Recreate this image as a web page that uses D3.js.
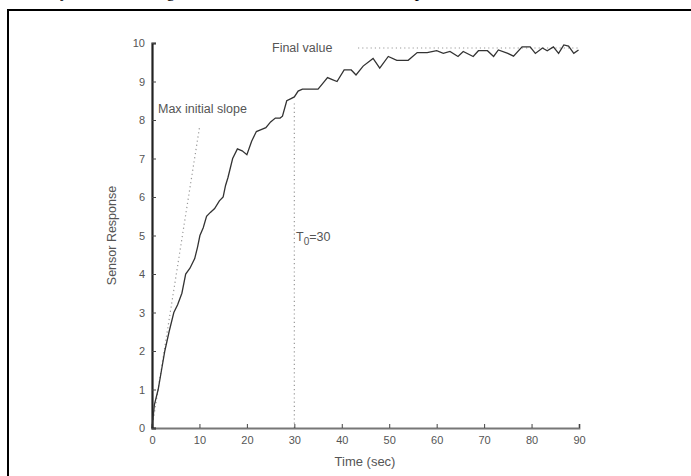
<!DOCTYPE html>
<html><head><meta charset="utf-8">
<script src="https://cdn.jsdelivr.net/npm/d3@7"></script>
<style>body{margin:0;background:#fff;}svg{display:block;}</style>
</head><body>
<script>
const timeSec = [0,0.5,1.3,2,2.7,3.6,4.6,5.4,6.3,7.1,8,9,9.6,10.1,10.8,11.5,12.3,13.2,14.2,15,15.5,16,17,18,19,20,21,22,23,24,25,26,27,27.5,28.4,29.2,30,30.8,31.7,33,35,36,37,38,39,40.5,42,43,44.5,46.6,48,49.8,51.6,54,55.9,58,60,61.4,62.8,64.5,65.6,67.7,68.8,70.7,72,73,75,76.2,78,79.7,80.8,82.3,83.3,84.6,85.7,86.8,87.8,88.9,89.9];
const response = [0,0.6,1,1.5,2,2.5,3,3.2,3.5,4,4.15,4.4,4.7,5,5.2,5.5,5.6,5.7,5.9,6,6.3,6.5,7,7.25,7.2,7.1,7.45,7.7,7.75,7.8,7.95,8.05,8.05,8.1,8.5,8.55,8.6,8.75,8.8,8.8,8.8,8.95,9.1,9.05,9.0,9.3,9.3,9.17,9.4,9.6,9.35,9.65,9.55,9.55,9.75,9.75,9.8,9.73,9.78,9.65,9.78,9.65,9.8,9.8,9.65,9.82,9.73,9.66,9.9,9.9,9.73,9.87,9.8,9.9,9.73,9.95,9.92,9.73,9.82];
const xTicks = [0,10,20,30,40,50,60,70,80,90];
const yTicks = [0,1,2,3,4,5,6,7,8,9,10];
const finalValue = 9.87;
const slopeLine = [[0,0],[10,7.8]];
const timeConstant = 30;
const timeConstantTop = 8.45;

const W = 691, H = 476;
const svg = d3.select("body").append("svg").attr("width", W).attr("height", H);

// surrounding text line (cut off) and frame
svg.append("text").attr("x", 60).attr("y", -3).attr("font-family", "Liberation Serif, serif")
  .attr("font-size", 17).attr("fill", "#000")
  .text("y, and been integrated in the model used as in the experiments [15].");
svg.append("rect").attr("x", 8).attr("y", 10).attr("width", 700).attr("height", 480)
  .attr("fill", "none").attr("stroke", "#000").attr("stroke-width", 2);

const x = d3.scaleLinear().domain([0, 90]).range([152, 579]);
const y = d3.scaleLinear().domain([0, 10]).range([428, 43]);

const font = "Liberation Sans, Arial, sans-serif";
const grey = "#555";

// dotted reference lines
const dot = g => g.attr("stroke", "#999").attr("stroke-width", 1.2).attr("stroke-dasharray", "1.2,3").attr("fill", "none");
svg.append("line").attr("x1", x(slopeLine[0][0])).attr("y1", y(slopeLine[0][1]))
  .attr("x2", x(slopeLine[1][0])).attr("y2", y(slopeLine[1][1])).call(dot);
svg.append("line").attr("x1", x(timeConstant)).attr("y1", y(0))
  .attr("x2", x(timeConstant)).attr("y2", y(timeConstantTop)).call(dot);
svg.append("line").attr("x1", 358).attr("y1", y(finalValue))
  .attr("x2", x(90)).attr("y2", y(finalValue)).call(dot);

// axes
const xAxis = svg.append("g").attr("transform", `translate(0,${y(0)})`)
  .call(d3.axisBottom(x).tickValues(xTicks).tickSize(-4).tickPadding(8));
xAxis.select(".domain").attr("stroke", "#777").attr("stroke-width", 1.8);
xAxis.selectAll(".tick line").attr("stroke", "#444");
xAxis.selectAll("text").attr("font-family", font).attr("font-size", 11).attr("fill", grey);

const yAxis = svg.append("g").attr("transform", `translate(${x(0)},0)`)
  .call(d3.axisLeft(y).tickValues(yTicks).tickSize(-4).tickPadding(7));
yAxis.select(".domain").attr("stroke", "#222").attr("stroke-width", 2.2);
yAxis.selectAll(".tick line").attr("stroke", "#444");
yAxis.selectAll("text").attr("font-family", font).attr("font-size", 11).attr("fill", grey);

// data line
const pts = timeSec.map((t, i) => [t, response[i]]);
svg.append("path").datum(pts)
  .attr("d", d3.line().x(d => x(d[0])).y(d => y(d[1])))
  .attr("fill", "none").attr("stroke", "#333").attr("stroke-width", 1.3);

// labels
svg.append("text").attr("x", 365).attr("y", 466).attr("text-anchor", "middle")
  .attr("font-family", font).attr("font-size", 13).attr("fill", grey).text("Time (sec)");
svg.append("text").attr("transform", `translate(116,${y(5)}) rotate(-90)`).attr("text-anchor", "middle")
  .attr("font-family", font).attr("font-size", 12.5).attr("fill", grey).text("Sensor Response");
svg.append("text").attr("x", 158).attr("y", 113)
  .attr("font-family", font).attr("font-size", 12.5).attr("fill", grey).text("Max initial slope");
svg.append("text").attr("x", 272).attr("y", 52)
  .attr("font-family", font).attr("font-size", 12.5).attr("fill", grey).text("Final value");
const t0 = svg.append("text").attr("x", 296).attr("y", 241)
  .attr("font-family", font).attr("font-size", 12.5).attr("fill", grey);
t0.append("tspan").text("T");
t0.append("tspan").attr("dy", 4).attr("font-size", 10).text("0");
t0.append("tspan").attr("dy", -4).text("=30");
</script>
</body></html>
